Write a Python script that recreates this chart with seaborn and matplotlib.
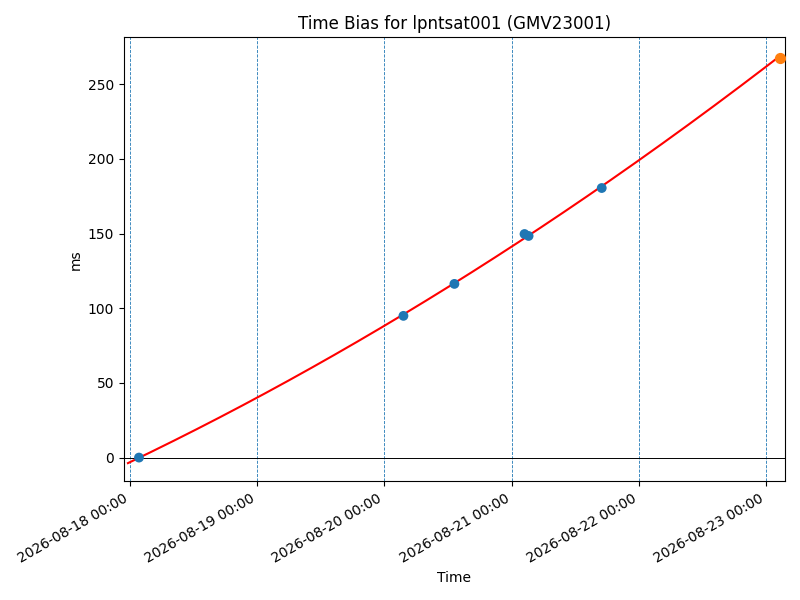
import numpy as np
import pandas as pd
import matplotlib
matplotlib.use("Agg")
import matplotlib.pyplot as plt
import matplotlib.dates as mdates
import seaborn as sns

# Measured time bias samples
obs_times = ["2026-08-18 01:42", "2026-08-20 03:36", "2026-08-20 13:13",
             "2026-08-21 02:27", "2026-08-21 03:13", "2026-08-21 17:01"]
obs_bias_ms = [0.0, 94.9, 116.3, 149.7, 148.4, 180.5]

# Predicted point at the end of the fit
pred_time = "2026-08-23 02:38"
pred_bias_ms = 267.4

# Fit curve span
fit_start = "2026-08-17 23:37"
fit_end = pred_time

day_lines = pd.date_range("2026-08-18", "2026-08-23", freq="D")

title = "Time Bias for lpntsat001 (GMV23001)"

df = pd.DataFrame({"Time": pd.to_datetime(obs_times), "ms": obs_bias_ms})

# Quadratic fit of the measured points
t0 = pd.Timestamp("2026-08-18")
t_days = (df["Time"] - t0) / pd.Timedelta(days=1)
coef = np.polyfit(t_days, df["ms"], 2)
fit_t = pd.date_range(fit_start, fit_end, periods=200)
fit_days = (fit_t - t0) / pd.Timedelta(days=1)
fit_df = pd.DataFrame({"Time": fit_t, "ms": np.polyval(coef, fit_days)})

fig, ax = plt.subplots(figsize=(8, 6), dpi=100)

for d in day_lines:
    ax.axvline(d, color="C0", linestyle="--", linewidth=0.6)
ax.axhline(0, color="black", linewidth=0.7)

sns.lineplot(data=fit_df, x="Time", y="ms", color="red", ax=ax, zorder=2)
sns.scatterplot(data=df, x="Time", y="ms", color="C0", s=50, edgecolor="none", ax=ax, zorder=3)
ax.scatter(pd.to_datetime([pred_time]), [pred_bias_ms], color="C1", s=50, zorder=3)

ax.set_xlim(pd.Timestamp("2026-08-17 22:52"), pd.Timestamp("2026-08-23 03:36"))
ax.set_ylim(-16, 281.4)
ax.xaxis.set_major_locator(mdates.DayLocator())
ax.xaxis.set_major_formatter(mdates.DateFormatter("%Y-%m-%d %H:%M"))

ax.set_title(title)
ax.set_xlabel("Time")
ax.set_ylabel("ms")
fig.autofmt_xdate()
plt.tight_layout()
plt.savefig("out.png")
